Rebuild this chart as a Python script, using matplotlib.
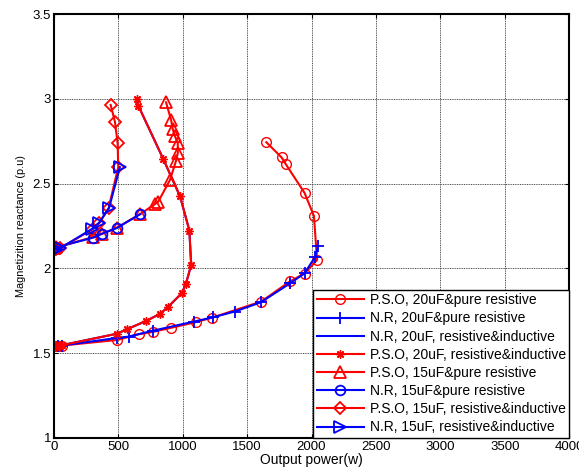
import matplotlib
matplotlib.use('Agg')
import matplotlib.pyplot as plt
from matplotlib.ticker import FuncFormatter

plt.rcParams['font.family'] = ['Liberation Sans', 'DejaVu Sans']

# P.S.O, 20uF & pure resistive
pso20_pr_x = [0, 20, 40, 60, 490, 660, 770, 910, 1100, 1230, 1610, 1835, 1946, 2043, 2019, 1946, 1799, 1768, 1649]
pso20_pr_y = [1.54, 1.54, 1.542, 1.545, 1.578, 1.612, 1.626, 1.65, 1.683, 1.71, 1.805, 1.925, 1.97, 2.05, 2.31, 2.446, 2.617, 2.655, 2.745]

# N.R, 20uF & pure resistive
nr20_pr_x = [0, 30, 60, 490, 580, 770, 1090, 1235, 1405, 1605, 1835, 1946, 2030, 2050]
nr20_pr_y = [1.54, 1.542, 1.545, 1.59, 1.598, 1.633, 1.687, 1.712, 1.746, 1.80, 1.913, 1.972, 2.07, 2.13]

# N.R, 20uF, resistive & inductive
nr20_rl_x = [0, 30, 60, 490, 570, 715, 824, 889, 993, 1024, 1066, 1052, 980, 850, 656, 643]
nr20_rl_y = [1.54, 1.543, 1.547, 1.615, 1.642, 1.69, 1.732, 1.775, 1.854, 1.907, 2.02, 2.224, 2.425, 2.645, 2.96, 3.0]

# P.S.O, 20uF, resistive & inductive
pso20_rl_x = [0, 30, 60, 490, 570, 715, 824, 889, 993, 1024, 1066, 1052, 980, 850, 656, 643]
pso20_rl_y = [1.54, 1.543, 1.547, 1.615, 1.642, 1.69, 1.732, 1.775, 1.854, 1.907, 2.02, 2.224, 2.425, 2.645, 2.96, 3.0]

# P.S.O, 15uF & pure resistive
pso15_pr_x = [0, 20, 306, 371, 487, 669, 785, 811, 902, 949, 962, 962, 941, 923, 910, 871]
pso15_pr_y = [2.12, 2.125, 2.185, 2.204, 2.24, 2.32, 2.38, 2.395, 2.523, 2.637, 2.68, 2.739, 2.779, 2.822, 2.877, 2.98]

# N.R, 15uF & pure resistive
nr15_pr_x = [0, 20, 306, 371, 487, 669]
nr15_pr_y = [2.12, 2.125, 2.182, 2.204, 2.238, 2.32]

# P.S.O, 15uF, resistive & inductive
pso15_rl_x = [0, 20, 50, 293, 352, 425, 500, 495, 474, 441]
pso15_rl_y = [2.11, 2.115, 2.12, 2.228, 2.267, 2.356, 2.598, 2.74, 2.867, 2.965]

# N.R, 15uF, resistive & inductive
nr15_rl_x = [0, 20, 50, 293, 352, 428, 513]
nr15_rl_y = [2.11, 2.115, 2.12, 2.232, 2.271, 2.356, 2.598]

x_ticks = [0, 500, 1000, 1500, 2000, 2500, 3000, 3500, 4000]
y_ticks = [1, 1.5, 2, 2.5, 3, 3.5]

fig = plt.figure(figsize=(5.79, 4.75), dpi=100)
ax = fig.add_axes([0.093, 0.078, 0.89, 0.892])

lw = 1.5
ms = 7
ax.plot(pso20_pr_x, pso20_pr_y, 'r-', marker='o', mfc='none', ms=ms, lw=lw, label='P.S.O, 20uF&pure resistive')
ax.plot(nr20_pr_x, nr20_pr_y, 'b-', marker='+', ms=ms + 1, mew=1.3, lw=lw, label='N.R, 20uF&pure resistive')
ax.plot(nr20_rl_x, nr20_rl_y, 'b-', lw=lw, label='N.R, 20uF, resistive&inductive')
ax.plot(pso20_rl_x, pso20_rl_y, 'r-', marker=(8, 2, 0), ms=ms - 1, mew=1.0, lw=lw, label='P.S.O, 20uF, resistive&inductive')
ax.plot(pso15_pr_x, pso15_pr_y, 'r-', marker='^', mfc='none', ms=ms + 1, mew=1.3, lw=lw, label='P.S.O, 15uF&pure resistive')
ax.plot(nr15_pr_x, nr15_pr_y, 'b-', marker='o', mfc='none', ms=ms, mew=1.3, lw=lw, label='N.R, 15uF&pure resistive')
ax.plot(pso15_rl_x, pso15_rl_y, 'r-', marker='D', mfc='none', ms=ms - 1, mew=1.3, lw=lw, label='P.S.O, 15uF, resistive&inductive')
ax.plot(nr15_rl_x, nr15_rl_y, 'b-', marker='>', mfc='none', ms=ms + 1, mew=1.3, lw=lw, label='N.R, 15uF, resistive&inductive')

ax.set_xlim(0, 4000)
ax.set_ylim(1, 3.5)
ax.set_xticks(x_ticks)
ax.set_yticks(y_ticks)
fmt = FuncFormatter(lambda v, p: '%g' % v)
ax.xaxis.set_major_formatter(fmt)
ax.yaxis.set_major_formatter(fmt)
ax.tick_params(direction='in', top=True, right=True, labelsize=9.5, length=3, pad=2)
ax.grid(True, color='0.3', linestyle=(0, (1, 0.8)), linewidth=0.7)
for s in ax.spines.values():
    s.set_linewidth(1.5)

ax.set_xlabel('Output power(w)', fontsize=10, labelpad=0)
ax.set_ylabel('Magnetizition reactance (p.u)', fontsize=7.8, labelpad=5)

leg = ax.legend(loc='lower right', borderaxespad=0, fontsize=10, handlelength=3.4,
                handletextpad=0.4, borderpad=0.25,
                fancybox=False, framealpha=1, edgecolor='k', labelspacing=0.3)
leg.get_frame().set_linewidth(1.0)

fig.savefig('out.png', dpi=100)
